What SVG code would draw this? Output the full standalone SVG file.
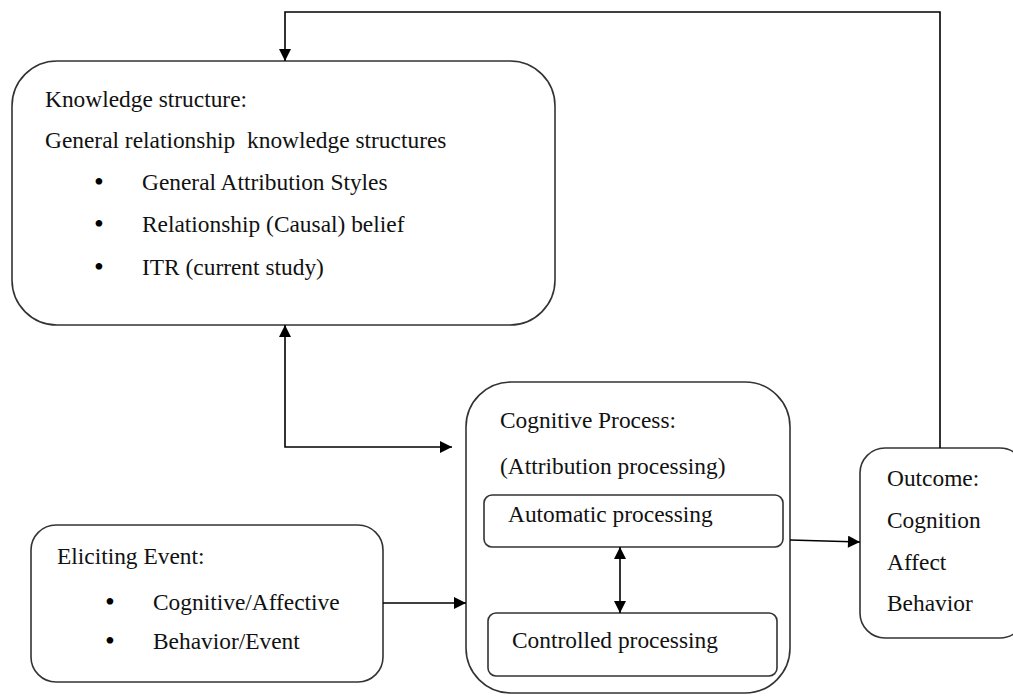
<svg xmlns="http://www.w3.org/2000/svg" width="1013" height="696" viewBox="0 0 1013 696">
<defs>
<marker id="ah" viewBox="0 0 10 10" refX="10" refY="5" markerWidth="13" markerHeight="12" markerUnits="userSpaceOnUse" orient="auto-start-reverse">
<path d="M0,0 L10,5 L0,10 z" fill="#000"/>
</marker>
<style>
.box{fill:#fff;stroke:#333;stroke-width:1.6}
.t{font-family:"Liberation Serif","Times New Roman",serif;font-size:23.4px;fill:#111}
.b{font-family:"Liberation Serif","Times New Roman",serif;font-size:28px;fill:#000;text-anchor:middle}
.c{fill:none;stroke:#000;stroke-width:1.6}
</style>
</defs>
<rect width="1013" height="696" fill="#fff"/>
<g id="knowledge">
<rect class="box" x="12" y="61" width="543" height="264" rx="45" ry="45"/>
<text class="t" x="45" y="107">Knowledge structure:</text>
<text class="t" x="45" y="148" xml:space="preserve">General relationship  knowledge structures</text>
<text class="b" x="99" y="191">•</text><text class="t" x="142" y="190">General Attribution Styles</text>
<text class="b" x="99" y="233">•</text><text class="t" x="142" y="232">Relationship (Causal) belief</text>
<text class="b" x="99" y="276">•</text><text class="t" x="142" y="275">ITR (current study)</text>
</g>
<g id="cognitive">
<rect class="box" x="466" y="382" width="324" height="311" rx="45" ry="45"/>
<text class="t" x="500" y="428">Cognitive Process:</text>
<text class="t" x="500" y="474">(Attribution processing)</text>
</g>
<g id="automatic">
<rect class="box" x="484" y="495" width="299" height="52" rx="8" ry="8"/>
<text class="t" x="508" y="522">Automatic processing</text>
</g>
<g id="controlled">
<rect class="box" x="488" y="613" width="289" height="63" rx="8" ry="8"/>
<text class="t" x="512" y="648">Controlled processing</text>
</g>
<g id="eliciting">
<rect class="box" x="31" y="525" width="352" height="157" rx="25" ry="25"/>
<text class="t" x="57" y="564">Eliciting Event:</text>
<text class="b" x="110" y="611">•</text><text class="t" x="153" y="610">Cognitive/Affective</text>
<text class="b" x="110" y="650">•</text><text class="t" x="153" y="649">Behavior/Event</text>
</g>
<g id="outcome">
<rect class="box" x="860" y="448" width="165" height="190" rx="25" ry="25"/>
<text class="t" x="887" y="486">Outcome:</text>
<text class="t" x="887" y="528">Cognition</text>
<text class="t" x="887" y="570">Affect</text>
<text class="t" x="887" y="611">Behavior</text>
</g>
<g id="connectors">
<path class="c" d="M940,448 V12 H285 V61" marker-end="url(#ah)"/>
<path class="c" d="M285,325 V447 H452" marker-start="url(#ah)" marker-end="url(#ah)"/>
<path class="c" d="M383,603 H466" marker-end="url(#ah)"/>
<path class="c" d="M620,547 V613" marker-start="url(#ah)" marker-end="url(#ah)"/>
<path class="c" d="M790,540 L860,542" marker-end="url(#ah)"/>
</g>
</svg>
